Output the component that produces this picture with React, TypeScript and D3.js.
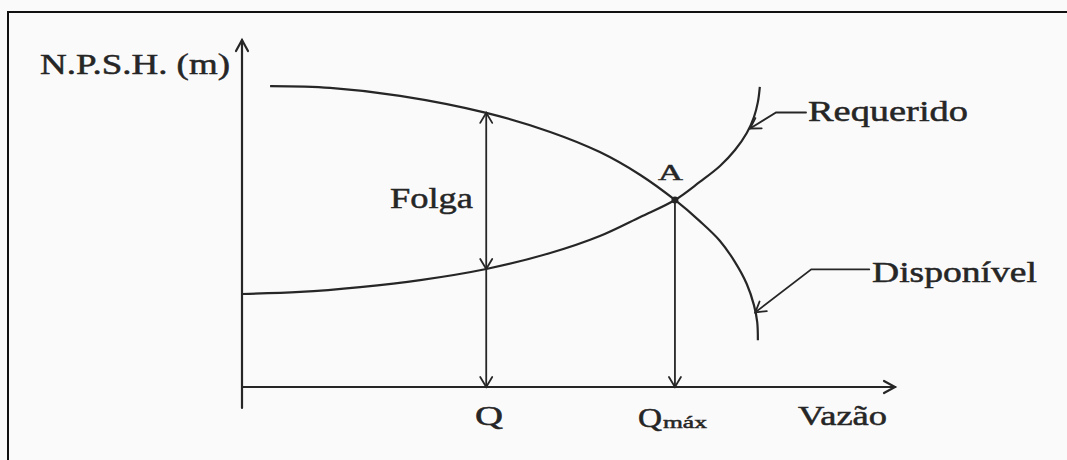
import React from "react";
import * as d3 from "d3";

// NPSH curves (flow and head in % of the axis length)
const disponivelQ = [4.3, 13.5, 24.2, 37.4, 47.2, 54.8, 61.0, 66.3, 70.1, 73.2, 75.5, 77.3, 78.4, 78.9, 79.0];
const disponivelH = [86.7, 86.2, 83.9, 79.0, 73.5, 67.7, 61.1, 53.9, 47.8, 42.1, 36.0, 29.7, 23.6, 18.7, 13.5];
const requeridoQ = [0, 8.9, 18.1, 27.3, 37.4, 47.2, 54.8, 61.0, 66.3, 70.1, 73.2, 75.5, 77.3, 78.4, 79.0, 79.3];
const requeridoH = [26.8, 27.4, 28.8, 30.8, 34.0, 38.6, 43.5, 49.0, 53.9, 59.1, 63.7, 68.3, 73.2, 77.8, 82.1, 86.5];

const qFolga = 37.4;
const qMax = 66.3;
const folgaTop = 79.0;
const folgaBottom = 34.0;
const pointA = { q: 66.3, h: 53.9 };
const requeridoTip = { q: 77.8, h: 74.5 };
const disponivelTip = { q: 78.6, h: 21.5 };

const W = 1067;
const H = 460;
const ink = "#262626";
const font = "Liberation Serif";

function arrowHead(x: number, y: number, angle: number, len = 11, half = 6) {
  // angle: direction the arrow points to (radians)
  const ca = Math.cos(angle);
  const sa = Math.sin(angle);
  const bx = x - len * ca;
  const by = y - len * sa;
  const p1 = [bx - half * sa, by + half * ca];
  const p2 = [bx + half * sa, by - half * ca];
  return `M${p1[0]},${p1[1]}L${x},${y}L${p2[0]},${p2[1]}`;
}

function Label(props: {
  x: number;
  y: number;
  w: number;
  size: number;
  children: React.ReactNode;
}) {
  return (
    <text
      x={props.x}
      y={props.y}
      fontSize={props.size}
      textLength={props.w}
      lengthAdjust="spacingAndGlyphs"
      fontFamily={font}
      fill={ink}
      stroke={ink}
      strokeWidth={0.5}
    >
      {props.children}
    </text>
  );
}

export default function App() {
  const x = d3.scaleLinear().domain([0, 100]).range([242, 895]);
  const y = d3.scaleLinear().domain([0, 100]).range([387, 40]);

  const line = d3
    .line<[number, number]>()
    .x((d) => x(d[0]))
    .y((d) => y(d[1]))
    .curve(d3.curveCatmullRom.alpha(0.5));

  const dispPath = line(disponivelQ.map((q, i) => [q, disponivelH[i]]));
  const reqPath = line(requeridoQ.map((q, i) => [q, requeridoH[i]]));

  const x0 = x(0);
  const y0 = y(0);

  // leader lines
  const rt = [x(requeridoTip.q), y(requeridoTip.h)];
  const rElbow = [rt[0] + 26, rt[1] - 16];
  const dt = [x(disponivelTip.q), y(disponivelTip.h)];
  const dElbow = [dt[0] + 56, dt[1] - 43];

  return (
    <svg width={W} height={H} style={{ display: "block", position: "absolute", left: 0, top: 0 }}>
      <rect x={0} y={0} width={W} height={H} fill="#fbfafa" />
      {/* frame */}
      <path d={`M8,${H + 5}L8,12L${W + 5},12`} fill="none" stroke="#111" strokeWidth={2} />

      {/* axes */}
      <g stroke={ink} strokeWidth={2.2} fill="none" strokeLinecap="round">
        <line x1={x0} y1={408} x2={x0} y2={y(100)} />
        <path d={arrowHead(x0, y(100), -Math.PI / 2)} />
        <line x1={x0} y1={y0} x2={x(100)} y2={y0} />
        <path d={arrowHead(x(100), y0, 0)} />
      </g>

      {/* curves */}
      <g stroke={ink} strokeWidth={2.2} fill="none">
        <path d={dispPath || ""} />
        <path d={reqPath || ""} />
      </g>

      {/* folga + Q arrows */}
      <g stroke={ink} strokeWidth={1.8} fill="none" strokeLinecap="round">
        <line x1={x(qFolga)} y1={y(folgaTop)} x2={x(qFolga)} y2={y0} />
        <path d={arrowHead(x(qFolga), y(folgaTop), -Math.PI / 2, 10, 6)} />
        <path d={arrowHead(x(qFolga), y(folgaBottom), Math.PI / 2, 10, 6)} />
        <path d={arrowHead(x(qFolga), y0, Math.PI / 2, 10, 6)} />
        <line x1={x(qMax)} y1={y(pointA.h)} x2={x(qMax)} y2={y0} />
        <path d={arrowHead(x(qMax), y0, Math.PI / 2, 10, 6)} />
      </g>

      <circle cx={x(pointA.q)} cy={y(pointA.h)} r={3.5} fill={ink} />

      {/* leaders */}
      <g stroke={ink} strokeWidth={1.8} fill="none" strokeLinecap="round">
        <path d={`M${rElbow[0] + 30},${rElbow[1]}L${rElbow[0]},${rElbow[1]}L${rt[0]},${rt[1]}`} />
        <path
          d={arrowHead(rt[0], rt[1], Math.atan2(rt[1] - rElbow[1], rt[0] - rElbow[0]), 10, 6)}
        />
        <path d={`M${dElbow[0] + 58},${dElbow[1]}L${dElbow[0]},${dElbow[1]}L${dt[0]},${dt[1]}`} />
        <path
          d={arrowHead(dt[0], dt[1], Math.atan2(dt[1] - dElbow[1], dt[0] - dElbow[0]), 10, 6)}
        />
      </g>

      {/* labels */}
      <Label x={40} y={74} w={190} size={30}>N.P.S.H. (m)</Label>
      <Label x={390} y={208} w={83} size={30}>Folga</Label>
      <Label x={658} y={180} w={25} size={24}>A</Label>
      <Label x={808} y={121} w={160} size={30}>Requerido</Label>
      <Label x={872} y={282} w={165} size={29}>Disponível</Label>
      <Label x={475} y={425} w={28} size={27}>Q</Label>
      <Label x={638} y={427} w={24} size={27}>Q</Label>
      <Label x={663} y={428} w={44} size={17}>máx</Label>
      <Label x={798} y={425} w={89} size={27}>Vazão</Label>
    </svg>
  );
}
